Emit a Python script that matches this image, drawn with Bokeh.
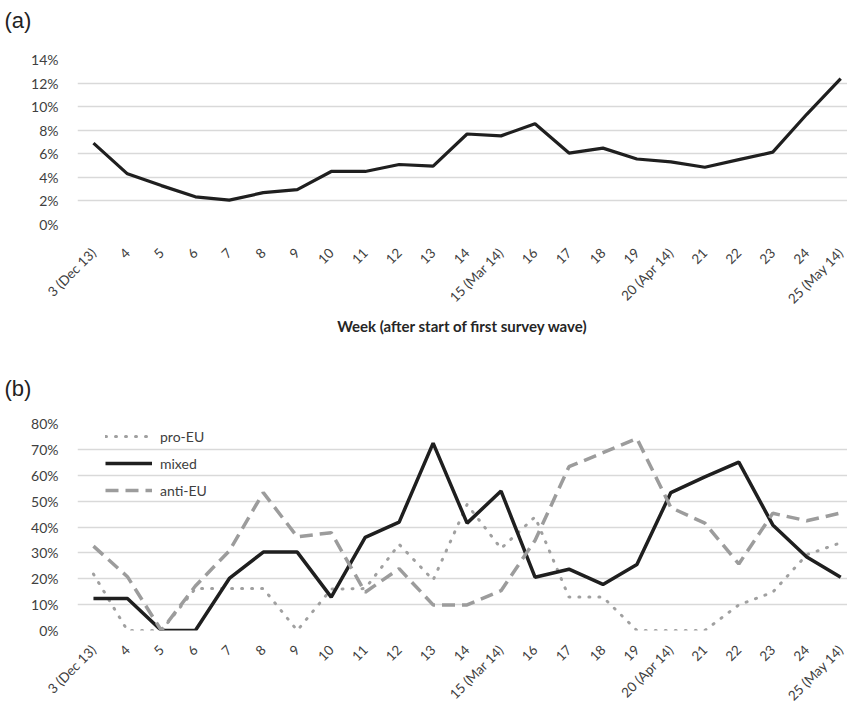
from bokeh.plotting import figure
from bokeh.layouts import column
from bokeh.models import Range1d, FixedTicker, PrintfTickFormatter, Legend, LegendItem, Title
from bokeh.embed import file_html
from bokeh.resources import INLINE

weeks = ["3 (Dec 13)", "4", "5", "6", "7", "8", "9", "10", "11", "12", "13", "14",
         "15 (Mar 14)", "16", "17", "18", "19", "20 (Apr 14)", "21", "22", "23", "24", "25 (May 14)"]

share = [6.9, 4.3, 3.3, 2.35, 2.07, 2.7, 2.96, 4.5, 4.5, 5.09, 4.95, 7.68,
         7.52, 8.55, 6.06, 6.48, 5.56, 5.31, 4.86, 5.5, 6.14, 9.35, 12.38]

pro_eu = [21.8, 0, 0, 16.2, 16.2, 16.2, 0, 16.0, 16.2, 33.3, 19.5, 48.7,
          31.7, 43.9, 12.9, 12.9, 0, 0, 0, 9.9, 14.8, 29.3, 33.9]
mixed = [12.4, 12.4, 0, 0, 20.1, 30.3, 30.3, 12.9, 36.0, 41.9, 72.4, 41.5,
         53.9, 20.6, 23.7, 17.8, 25.5, 53.3, 59.4, 65.1, 40.8, 28.4, 20.6]
anti_eu = [32.6, 20.8, 0, 17.2, 30.8, 53.3, 36.2, 37.8, 14.8, 23.9, 9.9, 9.9,
           15.4, 34.8, 63.3, 68.7, 74.2, 47.5, 41.5, 25.7, 45.3, 42.4, 45.4]

xs = list(range(len(weeks)))
FONT = "Lato"
TXT = "#404040"
GRID = "#d9d9d9"


def style(p, yticks, xstandoff, panel, spacer):
    p.xaxis.ticker = FixedTicker(ticks=xs)
    p.xaxis.major_label_overrides = {i: w for i, w in enumerate(weeks)}
    p.xaxis.major_label_orientation = 0.785398
    p.yaxis.ticker = FixedTicker(ticks=yticks)
    p.yaxis.formatter = PrintfTickFormatter(format="%d%%")
    for ax in (p.xaxis, p.yaxis):
        ax.axis_line_color = None
        ax.major_tick_line_color = None
        ax.minor_tick_line_color = None
        ax.major_label_text_font = FONT
        ax.major_label_text_font_size = "14px"
        ax.major_label_text_color = TXT
    p.xaxis.major_label_text_font_size = "13.5px"
    p.xaxis.major_label_standoff = xstandoff
    p.yaxis.major_label_standoff = 13
    p.xgrid.grid_line_color = None
    p.ygrid.grid_line_color = GRID
    p.ygrid.grid_line_width = 1.5
    p.ygrid.ticker = FixedTicker(ticks=yticks)
    p.outline_line_color = None
    # spacer first (closest to the frame), then the panel letter
    p.add_layout(Title(text=" ", text_font_size=spacer, standoff=10), "above")
    p.add_layout(Title(text=panel, text_font="Liberation Sans", text_font_size="22px",
                       text_font_style="normal", text_color="#222222", offset=-73), "above")


xr = (-0.47, 22.2)

p1 = figure(width=847, height=343, output_backend="svg", toolbar_location=None,
            x_range=Range1d(*xr), y_range=Range1d(0, 14),
            min_border_left=77, min_border_right=0, min_border_top=57, min_border_bottom=119)
style(p1, [0, 2, 4, 6, 8, 10, 12, 14], 20, "(a)", "9px")
p1.line(xs, share, line_color="#1f1f1f", line_width=3.2)
p1.xaxis.axis_label = "Week (after start of first survey wave)"
p1.xaxis.axis_label_text_font = FONT
p1.xaxis.axis_label_text_font_style = "bold"
p1.xaxis.axis_label_text_font_size = "15px"
p1.xaxis.axis_label_text_color = "#262626"
p1.xaxis.axis_label_standoff = 2

p2 = figure(width=847, height=369, output_backend="svg", toolbar_location=None,
            x_range=Range1d(*xr), y_range=Range1d(0, 80),
            min_border_left=77, min_border_right=0, min_border_top=80, min_border_bottom=10)
style(p2, [0, 10, 20, 30, 40, 50, 60, 70, 80], 11, "(b)", "6px")
r_pro = p2.line(xs, pro_eu, line_color="#a0a0a0", line_width=3, line_dash="1 9", line_cap="round")
r_mix = p2.line(xs, mixed, line_color="#1f1f1f", line_width=3.5)
r_anti = p2.line(xs, anti_eu, line_color="#9c9c9c", line_width=3.5, line_dash="13 7")

legend = Legend(items=[LegendItem(label="pro-EU", renderers=[r_pro]),
                       LegendItem(label="mixed", renderers=[r_mix]),
                       LegendItem(label="anti-EU", renderers=[r_anti])],
                location=(28, 130), padding=0, margin=0, spacing=7,
                glyph_width=47, glyph_height=20, label_height=20, label_standoff=8,
                label_text_font=FONT, label_text_font_size="14px", label_text_color=TXT,
                background_fill_alpha=0, border_line_color=None)
p2.add_layout(legend, "center")

layout = column(p1, p2, spacing=0)
open("out.html", "w").write(file_html(layout, INLINE))
